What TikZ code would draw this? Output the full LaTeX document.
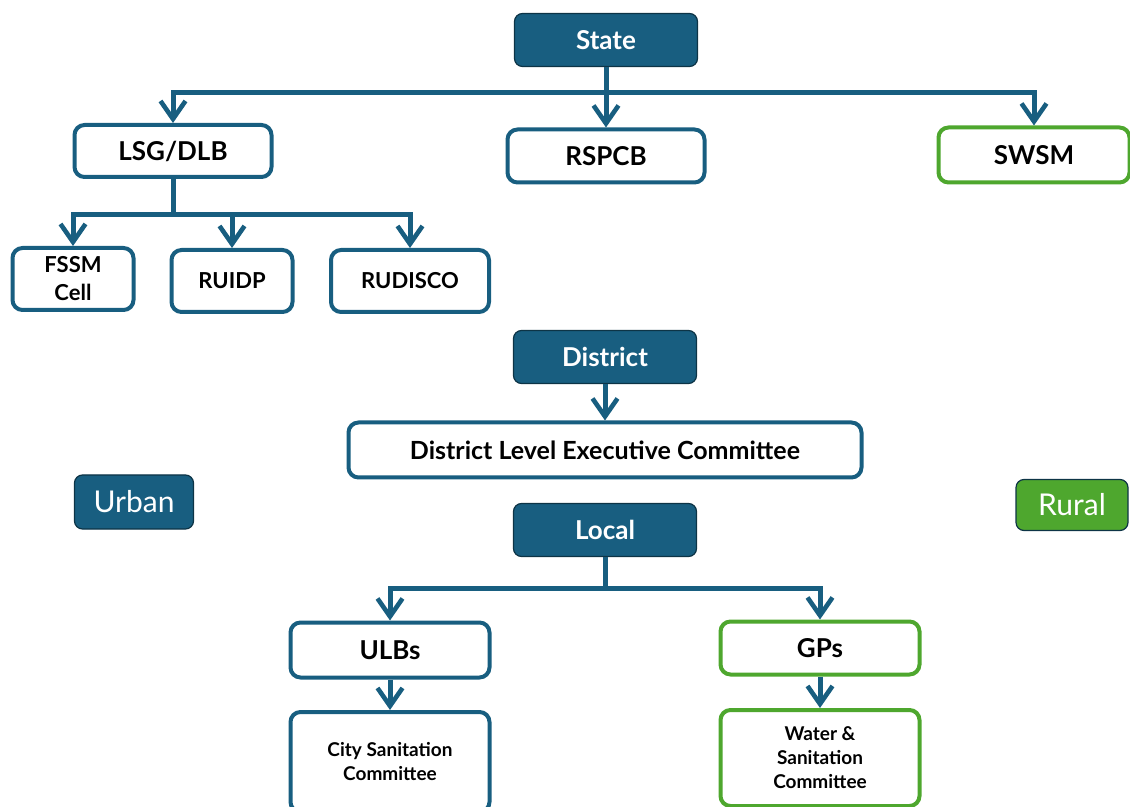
\documentclass[tikz,border=0pt]{standalone}
\usepackage{fontspec}
\setmainfont{Lato}
\usetikzlibrary{positioning, arrows.meta}
\definecolor{govblue}{RGB}{24,94,128}
\definecolor{govgreen}{RGB}{78,167,46}
\begin{document}
\begin{tikzpicture}[x=0.5pt,y=-0.5pt,
  lvl/.style={rectangle,rounded corners=4pt,fill=govblue,draw=govblue!55!black,line width=0.6pt,text=white,font=\bfseries\fontsize{13}{15}\selectfont,minimum width=91.5pt,minimum height=26.5pt,inner sep=0pt},
  ubox/.style={rectangle,rounded corners=5pt,fill=white,draw=govblue,line width=2pt,font=\bfseries\fontsize{13}{15}\selectfont,inner sep=0pt,align=center},
  rbox/.style={ubox,draw=govgreen},
  small/.style={font=\bfseries\fontsize{11}{14}\selectfont},
  tiny/.style={font=\bfseries\fontsize{9.5}{12}\selectfont},
  tag/.style={rectangle,rounded corners=4pt,draw=govblue!55!black,line width=0.6pt,text=white,font=\fontsize{15}{17}\selectfont,inner sep=0pt},
  link/.style={draw=govblue,line width=2.5pt},
  arr/.style={link,-{Straight Barb[length=9pt,width=12.5pt,line width=2.3pt]}}]
\useasboundingbox (0,0) rectangle (1130,807);
\node[lvl] (state) at (606,40) {State};
\node[ubox,minimum width=98.5pt,minimum height=26pt] (lsg) at (173,151) {LSG/DLB};
\node[ubox,minimum width=98.5pt,minimum height=26.5pt] (rspcb) at (606,156) {RSPCB};
\node[rbox,minimum width=95.5pt,minimum height=27.5pt] (swsm) at (1034,155) {SWSM};
\node[ubox,small,minimum width=60.5pt,minimum height=31pt] (fssm) at (73,279) {FSSM\\Cell};
\node[ubox,small,minimum width=60.5pt,minimum height=31pt] (ruidp) at (232,281) {RUIDP};
\node[ubox,small,minimum width=79pt,minimum height=31pt] (rudisco) at (410,281) {RUDISCO};
\node[lvl] (district) at (605,357) {District};
\node[ubox,minimum width=256.5pt,minimum height=27.5pt,font=\bfseries\fontsize{12.5}{15}\selectfont] (dlec) at (605,450) {District Level Executive Committee};
\node[tag,fill=govblue,minimum width=59.5pt,minimum height=27pt] (urban) at (134,502) {Urban};
\node[tag,fill=govgreen,minimum width=56pt,minimum height=25.5pt] (rural) at (1072,505) {Rural};
\node[lvl] (local) at (605,530) {Local};
\node[ubox,minimum width=99.5pt,minimum height=27.5pt] (ulbs) at (390,650) {ULBs};
\node[rbox,minimum width=99.5pt,minimum height=26.5pt] (gps) at (820,648) {GPs};
\node[ubox,tiny,minimum width=99.5pt,minimum height=50pt] (csc) at (390,762) {City Sanitation\\Committee};
\node[rbox,tiny,minimum width=99.5pt,minimum height=48pt] (wsc) at (820,758) {Water \&\\Sanitation\\Committee};
\coordinate (busa) at (606,93);
\coordinate (busb) at (173,215);
\coordinate (busc) at (605,588);
\draw[link] (state) -- (busa);
\draw[arr] (busa) -| (lsg);
\draw[arr] (busa) -- (rspcb);
\draw[arr] (busa) -| (swsm);
\draw[link] (lsg) -- (busb);
\draw[arr] (busb) -| (fssm);
\draw[arr] (busb) -| (ruidp);
\draw[arr] (busb) -| (rudisco);
\draw[arr] (district) -- (dlec);
\draw[link] (local) -- (busc);
\draw[arr] (busc) -| (ulbs);
\draw[arr] (busc) -| (gps);
\draw[arr] (ulbs) -- (csc);
\draw[arr] (gps) -- (wsc);
\end{tikzpicture}
\end{document}
